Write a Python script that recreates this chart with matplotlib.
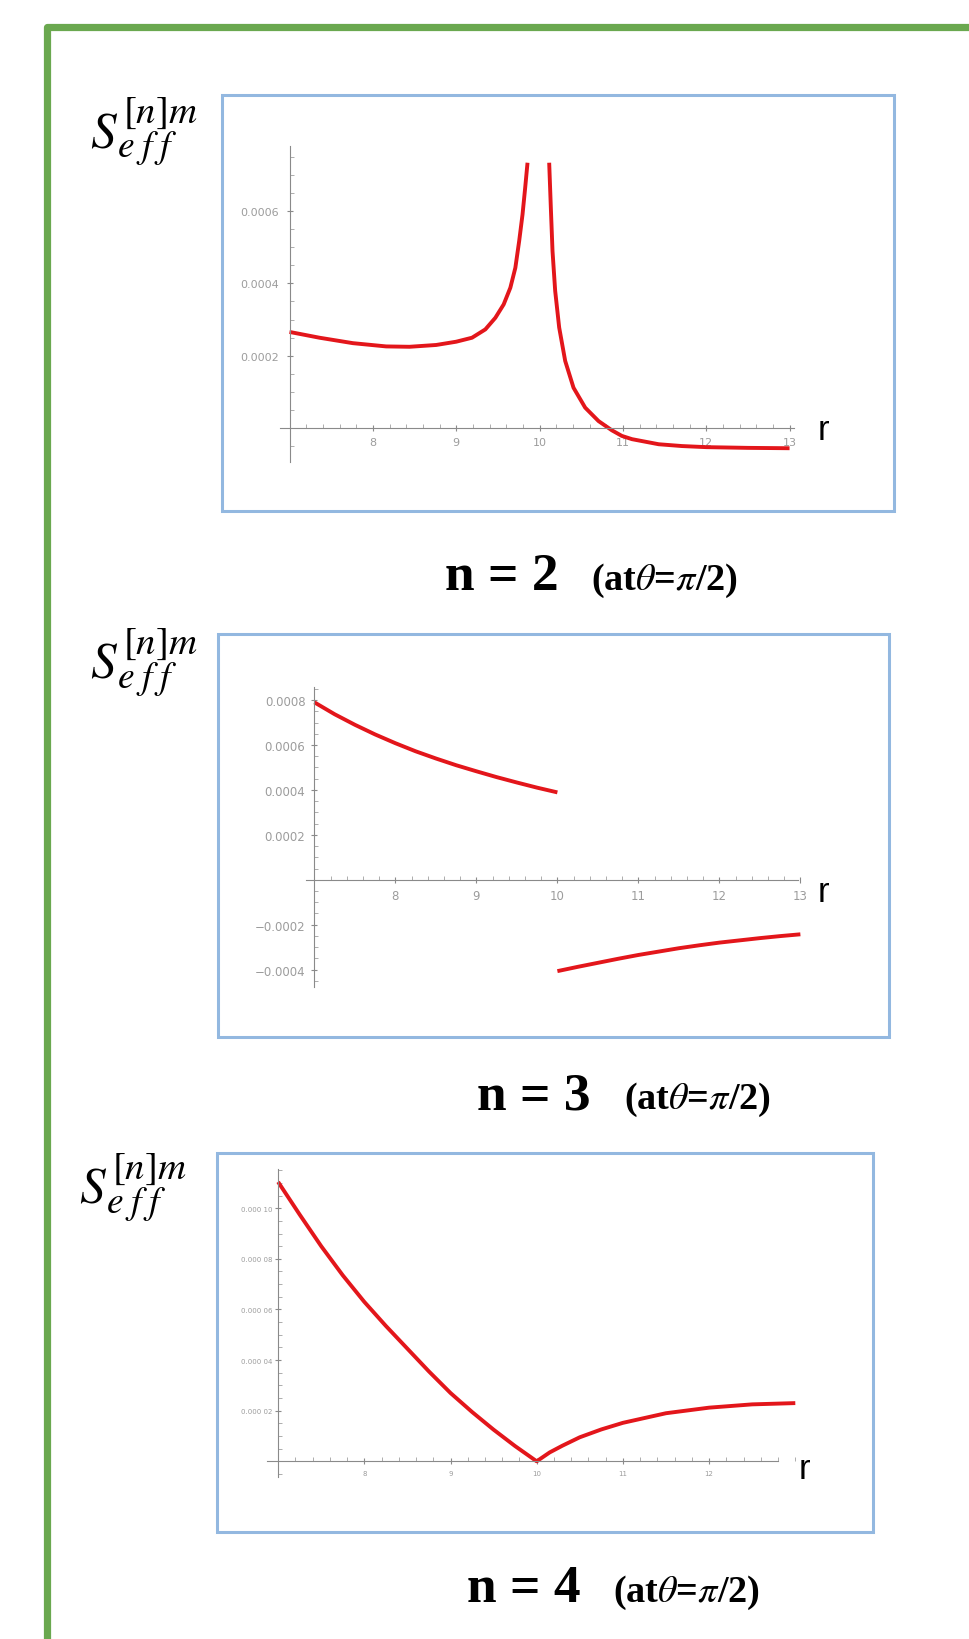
import matplotlib.pyplot as plt
from matplotlib.lines import Line2D
from matplotlib.patches import Rectangle
from matplotlib.ticker import FixedLocator, MultipleLocator

plt.rcParams["mathtext.fontset"] = "stix"

W, H = 969, 1640

# n = 2 : two branches around the pole at r = 10
r2_left = [7.0, 7.36, 7.76, 8.16, 8.44, 8.76, 9.0, 9.19, 9.35, 9.47, 9.57, 9.65, 9.71,
           9.756, 9.796, 9.828, 9.856]
s2_left = [0.000266, 0.00025, 0.000235, 0.000226, 0.000225, 0.00023, 0.000239, 0.00025,
           0.000273, 0.000305, 0.000342, 0.000388, 0.000443, 0.000517, 0.00059, 0.000664, 0.000733]
r2_right = [10.116, 10.136, 10.156, 10.188, 10.236, 10.308, 10.408, 10.548, 10.708, 10.868,
            10.988, 11.11, 11.43, 11.71, 12.0, 12.5, 13.0]
s2_right = [0.000733, 0.000608, 0.000489, 0.000379, 0.000278, 0.000186, 0.000112, 0.000057,
            0.00002, -0.0000055, -0.000021, -0.00003, -0.000044, -0.000049, -0.000052,
            -0.000054, -0.000055]

# n = 3 : jump at r = 10
r3_left = [7.0, 7.25, 7.5, 7.75, 8.0, 8.25, 8.5, 8.75, 9.0, 9.25, 9.5, 9.75, 10.0]
s3_left = [0.00079, 0.000737, 0.00069, 0.000647, 0.000608, 0.000572, 0.00054, 0.00051,
           0.000483, 0.000457, 0.000433, 0.00041, 0.000389]
r3_right = [10.0, 10.25, 10.5, 10.75, 11.0, 11.25, 11.5, 11.75, 12.0, 12.25, 12.5, 12.75, 13.0]
s3_right = [-0.000407, -0.000388, -0.00037, -0.000352, -0.000335, -0.00032, -0.000305,
            -0.000292, -0.00028, -0.00027, -0.00026, -0.000251, -0.000243]

# n = 4 : cusp at r = 10
r4 = [7.0, 7.25, 7.5, 7.75, 8.0, 8.25, 8.5, 8.75, 9.0, 9.25, 9.5, 9.75, 10.0,
      10.15, 10.3, 10.5, 10.75, 11.0, 11.5, 12.0, 12.5, 13.0]
s4 = [0.0001104, 0.0000975, 0.000085, 0.0000735, 0.000063, 0.0000535, 0.0000445, 0.0000355,
      0.000027, 0.0000195, 0.0000125, 0.000006, 0.0,
      0.0000035, 0.0000062, 0.0000095, 0.0000126, 0.0000152, 0.000019, 0.0000212,
      0.0000225, 0.000023]

x_ticks_2 = [8, 9, 10, 11, 12, 13]
y_ticks_2 = [0.0002, 0.0004, 0.0006]
y_labels_2 = ["0.0002", "0.0004", "0.0006"]

x_ticks_3 = [8, 9, 10, 11, 12, 13]
y_ticks_3 = [-0.0004, -0.0002, 0.0002, 0.0004, 0.0006, 0.0008]
y_labels_3 = ["\u22120.0004", "\u22120.0002", "0.0002", "0.0004", "0.0006", "0.0008"]

x_ticks_4 = [8, 9, 10, 11, 12]
y_ticks_4 = [0.00002, 0.00004, 0.00006, 0.00008, 0.0001]
y_labels_4 = ["0.000 02", "0.000 04", "0.000 06", "0.000 08", "0.000 10"]

red = "#e3161b"
tick_grey = "#9c9c9c"
box_blue = "#93b8e0"
green = "#6aa84f"

fig = plt.figure(figsize=(W / 100, H / 100), dpi=100)


def fx(px):
    return px / W


def fy(py):
    return 1 - py / H


def px_axes(x0, y0, x1, y1):
    return fig.add_axes([fx(x0), fy(y1), (x1 - x0) / W, (y1 - y0) / H])


def blue_box(x0, y0, x1, y1):
    fig.patches.append(Rectangle((fx(x0), fy(y1)), (x1 - x0) / W, (y1 - y0) / H,
                                 transform=fig.transFigure, fill=False,
                                 edgecolor=box_blue, linewidth=2.2, zorder=0))


def style_axes(ax, xlim, ylim, xt, yt, ylab, xminor, yminor, fs, ypad, xbound=None):
    ax.set_xlim(*xlim)
    ax.set_ylim(*ylim)
    ax.patch.set_alpha(0)
    for s in ("top", "right"):
        ax.spines[s].set_visible(False)
    ax.spines["left"].set_position(("data", 7))
    ax.spines["bottom"].set_position(("data", 0))
    for s in ("left", "bottom"):
        ax.spines[s].set_color("#8a8a8a")
        ax.spines[s].set_linewidth(0.8)
    if xbound is not None:
        ax.spines["bottom"].set_bounds(*xbound)
    ax.xaxis.set_major_locator(FixedLocator(xt))
    ax.set_xticklabels([str(v) for v in xt])
    ax.yaxis.set_major_locator(FixedLocator(yt))
    ax.set_yticklabels(ylab)
    ax.xaxis.set_minor_locator(MultipleLocator(xminor))
    ax.yaxis.set_minor_locator(MultipleLocator(yminor))
    ax.tick_params(which="major", direction="inout", length=5, width=0.8, color="#8a8a8a",
                   labelcolor=tick_grey, labelsize=fs)
    ax.tick_params(which="minor", direction="in", length=3, width=0.6, color="#a0a0a0")
    ax.tick_params(axis="y", which="major", pad=ypad)
    ax.tick_params(axis="x", which="major", pad=4)


def curve(ax, r, s):
    ax.plot(r, s, color=red, linewidth=2.8, solid_capstyle="butt", solid_joinstyle="round")


# green frame, open to the right and bottom
fig.add_artist(Line2D([fx(47), fx(47), fx(975)], [fy(1650), fy(28), fy(28)],
                      transform=fig.transFigure, color=green, linewidth=5.2,
                      solid_joinstyle="round", solid_capstyle="butt"))

# panel n = 2
blue_box(222, 96, 894, 512)
ax1 = px_axes(279.5, 146.7, 793.7, 463)
style_axes(ax1, (6.88, 13.05), (-0.000093, 0.00078), x_ticks_2, y_ticks_2, y_labels_2,
           0.2, 0.00005, 8, 5)
curve(ax1, r2_left, s2_left)
curve(ax1, r2_right, s2_right)

# panel n = 3
blue_box(218, 635, 889, 1038)
ax2 = px_axes(305.5, 688.3, 802, 988.3)
style_axes(ax2, (6.89, 13.02), (-0.000479, 0.000857), x_ticks_3, y_ticks_3, y_labels_3,
           0.2, 0.00005, 8.5, 4, xbound=(6.89, 12.97))
curve(ax2, r3_left, s3_left)
curve(ax2, r3_right, s3_right)

# panel n = 4
blue_box(217, 1154, 873, 1533)
ax3 = px_axes(266.9, 1170, 799.6, 1478)
style_axes(ax3, (6.87, 13.05), (-0.0000062, 0.0001155), x_ticks_4, y_ticks_4, y_labels_4,
           0.2, 0.000005, 5, 1.5, xbound=(6.87, 12.8))
curve(ax3, r4, s4)

# y-axis names: S with [n]m above and eff below
for x, y in [(90, 147), (90, 678), (79, 1203)]:
    fig.text(fx(x), fy(y), r"$S$", fontsize=37, ha="left", va="baseline")
    fig.text(fx(x + 33), fy(y - 24), r"$[n]m$", fontsize=28, ha="left", va="baseline")
    fig.text(fx(x + 27), fy(y + 10), r"$e\;f\;f$", fontsize=27, ha="left", va="baseline")

for x, y in [(818, 440), (818, 902), (799, 1479)]:
    fig.text(fx(x), fy(y), "r", fontsize=25, family="Liberation Sans", ha="left", va="baseline")

captions = [("n = 2", 445, 591, 590), ("n = 3", 477, 624, 1109), ("n = 4", 467, 613, 1602)]
for txt, x_main, x_sub, y in captions:
    fig.text(fx(x_main), fy(y), txt, fontsize=38.5, family="Liberation Serif",
             weight="bold", ha="left", va="baseline")
    fig.text(fx(x_sub), fy(y), r"(at$\theta$=$\pi$/2)", fontsize=27.5, family="Liberation Serif",
             weight="bold", ha="left", va="baseline")

fig.savefig("out.png", dpi=100)
